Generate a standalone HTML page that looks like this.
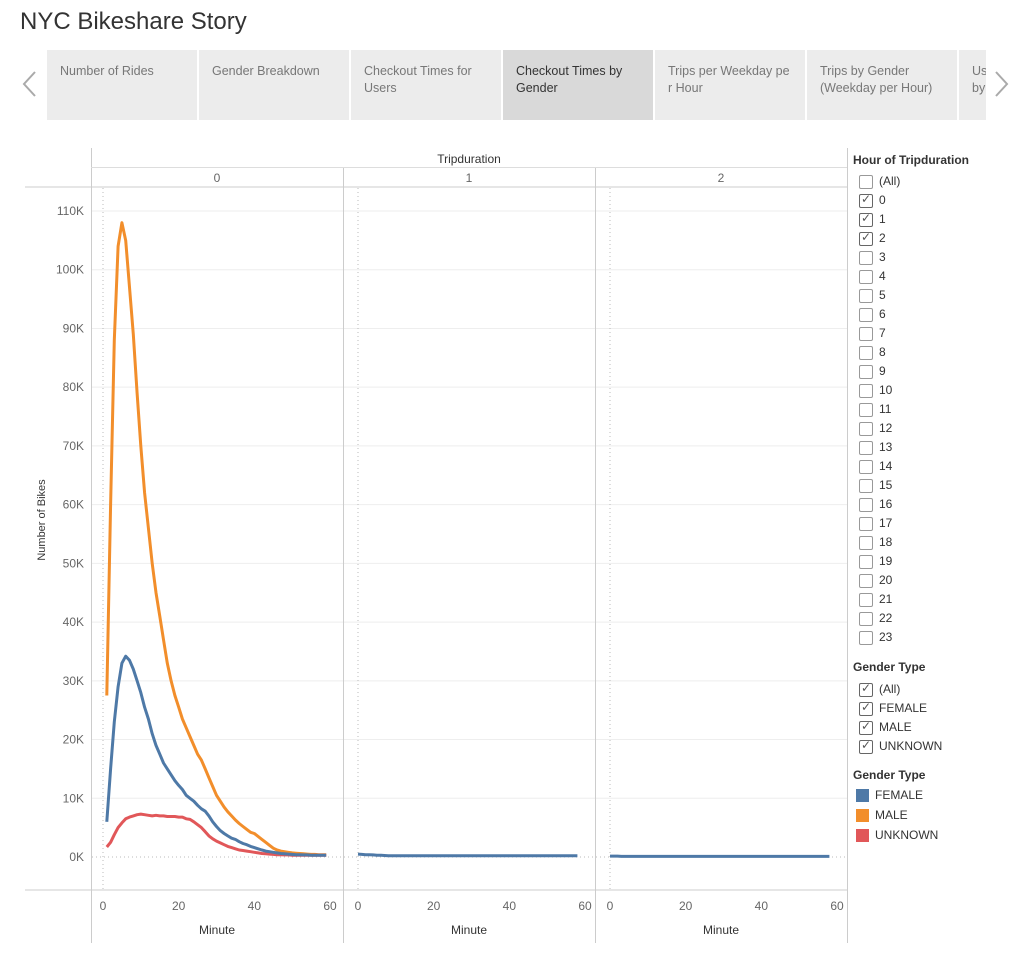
<!DOCTYPE html>
<html><head><meta charset="utf-8"><style>
body{margin:0;width:1014px;height:963px;background:#fff;font-family:"Liberation Sans",sans-serif;overflow:hidden;position:relative}
.t{position:absolute}
.tab{position:absolute;top:50px;height:70px;background:#ececec;color:#777;font-size:12.5px;line-height:17px;padding:13px 0 0 13px;box-sizing:border-box}
.cb{position:absolute;left:859px;width:12px;height:12px;border:1px solid #999;border-radius:2px;background:#fff}
.lb{position:absolute;left:879px;font-size:12px;color:#333}
</style></head><body>
<div class="t" style="left:20px;top:8px;font-size:24px;color:#333">NYC Bikeshare Story</div>
<svg class="t" style="left:20px;top:70px" width="20" height="28"><polyline points="15,2 4,14 15,26" fill="none" stroke="#aaa" stroke-width="2"/></svg>
<svg class="t" style="left:992px;top:70px" width="20" height="28"><polyline points="4,2 15,14 4,26" fill="none" stroke="#aaa" stroke-width="2"/></svg>
<div class="tab" style="left:47px;width:150px">Number of Rides</div>
<div class="tab" style="left:199px;width:150px">Gender Breakdown</div>
<div class="tab" style="left:351px;width:150px">Checkout Times for<br>Users</div>
<div class="tab" style="left:503px;width:150px;background:#d9d9d9;color:#333">Checkout Times by<br>Gender</div>
<div class="tab" style="left:655px;width:150px">Trips per Weekday pe<br>r Hour</div>
<div class="tab" style="left:807px;width:150px">Trips by Gender<br>(Weekday per Hour)</div>
<div class="tab" style="left:959px;width:27px;overflow:hidden">Us<br>by</div>

<svg id="chart" width="1014" height="963" style="position:absolute;left:0;top:0;pointer-events:none"></svg>

<div class="t" style="left:853px;top:153px;font-size:12px;font-weight:bold;color:#333">Hour of Tripduration</div>
<div id="hours"></div>
<div class="t" style="left:853px;top:660px;font-size:12px;font-weight:bold;color:#333">Gender Type</div>
<div id="genders"></div>
<div class="t" style="left:853px;top:768px;font-size:12px;font-weight:bold;color:#333">Gender Type</div>
<div id="legend"></div>

<script>
const minutes=[];for(let i=1;i<=59;i++)minutes.push(i);
const male=[27.5,60,88,104,108,105,97,89,79,70,62,56,50,45,41,37,33,30,27.5,25.5,23.5,22,20.5,19,17.5,16.5,15,13.5,12,10.5,9.5,8.5,7.7,7,6.3,5.7,5.2,4.7,4.2,4,3.5,3,2.5,2,1.5,1.2,1,0.9,0.8,0.7,0.65,0.6,0.55,0.5,0.45,0.45,0.4,0.4,0.4];
const female=[6,15,23,29,33,34.2,33.5,32,30,28,25.5,23.5,21,19,17.5,16,15,14,13,12.2,11.5,10.5,10,9.5,8.8,8.2,7.8,7,6,5.2,4.5,4,3.6,3.2,3,2.6,2.3,2.1,1.8,1.6,1.4,1.2,1,0.9,0.8,0.7,0.6,0.55,0.5,0.45,0.4,0.4,0.35,0.35,0.3,0.3,0.3,0.3,0.3];
const unknown=[1.7,2.5,3.8,5,5.8,6.5,6.8,7,7.2,7.3,7.2,7.1,7,7.1,7,7,6.9,6.9,6.9,6.8,6.8,6.5,6.4,6,5.5,5,4.3,3.6,3.1,2.7,2.4,2.1,1.8,1.6,1.4,1.2,1.1,1,0.9,0.8,0.7,0.6,0.55,0.5,0.45,0.4,0.4,0.35,0.35,0.3,0.3,0.3,0.3,0.3,0.3,0.3,0.3,0.3,0.3];
const hour1=[0.5,0.45,0.4,0.4,0.35,0.3,0.3,0.25,0.2,0.2];
const hour2=[0.15,0.15,0.15,0.1,0.1,0.1];
const yTicks=[0,10,20,30,40,50,60,70,80,90,100,110];
const xTicks=[0,20,40,60];
const panels=["0","1","2"];
const hoursList=["(All)"];for(let i=0;i<24;i++)hoursList.push(String(i));
const checkedHours=["0","1","2"];
const genderFilter=["(All)","FEMALE","MALE","UNKNOWN"];
const legendItems=["FEMALE","MALE","UNKNOWN"];
const colors={FEMALE:"#4e79a7",MALE:"#f28e2b",UNKNOWN:"#e15759"};

const NS="http://www.w3.org/2000/svg";
const svg=document.getElementById('chart');
function el(tag,a,parent){const e=document.createElementNS(NS,tag);for(const k in a)e.setAttribute(k,a[k]);(parent||svg).appendChild(e);return e;}
const y=v=>857-v*(857-211)/110;
const panelX=[103,358,610];
const x=(p,m)=>panelX[p]+m*(330-103)/60;
const bounds=[91,343,595,847];

yTicks.forEach(t=>{if(t>0){const g=el('line',{x1:91,x2:847,y1:y(t),y2:y(t),stroke:'#eee'});}
 const tx=el('text',{x:84,y:y(t)+4,'text-anchor':'end','font-size':12,fill:'#666'});tx.textContent=t+'K';
 });
el('line',{x1:25,x2:847,y1:187,y2:187,stroke:'#ccc'});
el('line',{x1:25,x2:847,y1:890,y2:890,stroke:'#ccc'});
bounds.forEach((b,i)=>el('line',{x1:b+0.5,x2:b+0.5,y1:i==0||i==3?148:168,y2:943,stroke:'#ccc'}));
el('line',{x1:91,x2:847,y1:167.5,y2:167.5,stroke:'#ddd'});
const tt=el('text',{x:469,y:163,'text-anchor':'middle','font-size':12,fill:'#333'});tt.textContent='Tripduration';

const yt=el('text',{transform:'translate(45,520) rotate(-90)','text-anchor':'middle','font-size':11,fill:'#333'});yt.textContent='Number of Bikes';

panels.forEach((p,i)=>{
 const h=el('text',{x:(bounds[i]+bounds[i+1])/2,y:182,'text-anchor':'middle','font-size':12,fill:'#666'});h.textContent=p;
 
 el('line',{x1:x(i,0),x2:x(i,0),y1:188,y2:889,stroke:'#bbb','stroke-dasharray':'1,3'});
 el('line',{x1:bounds[i]+1,x2:bounds[i+1],y1:y(0),y2:y(0),stroke:'#bbb','stroke-dasharray':'1,3'});
 xTicks.forEach(t=>{const tx=el('text',{x:x(i,t),y:910,'text-anchor':'middle','font-size':12,fill:'#666'});tx.textContent=t;
  });
 const xa=el('text',{x:(bounds[i]+bounds[i+1])/2,y:934,'text-anchor':'middle','font-size':12,fill:'#333'});xa.textContent='Minute';
 
});
function line(p,vals,color,name){
 const d=vals.map((v,k)=>(k?'L':'M')+x(p,minutes[k]).toFixed(1)+','+y(v).toFixed(1)).join('');
 const e=el('path',{d:d,fill:'none',stroke:color,'stroke-width':3,'stroke-linejoin':'round'});
 
}
line(0,male,colors.MALE,'line-male-hour0');
line(0,unknown,colors.UNKNOWN,'line-unknown-hour0');
line(0,female,colors.FEMALE,'line-female-hour0');
function flat(p,vals,name){
 const d=minutes.map((m,k)=>(k?'L':'M')+x(p,m-1).toFixed(1)+','+y(vals[Math.min(k,vals.length-1)]).toFixed(1)).join('');
 const e=el('path',{d:d,fill:'none',stroke:colors.FEMALE,'stroke-width':3});
 
}
flat(1,hour1,'line-hour1');flat(2,hour2,'line-hour2');

const hd=document.getElementById('hours');
hoursList.forEach((h,i)=>{const top=175+i*19;
 const c=document.createElement('div');c.className='cb';c.style.top=top+'px';
 if(checkedHours.includes(h)){c.innerHTML='<span style="position:absolute;left:1px;top:-3px;font-size:12px;color:#555">&#x2713;</span>';c.style.borderColor='#666';}
 
 
 hd.appendChild(c);
 const l=document.createElement('div');l.className='lb';l.style.top=(top-1)+'px';l.textContent=h;
 
 
 hd.appendChild(l);});
const gd=document.getElementById('genders');
genderFilter.forEach((g,i)=>{const top=683+i*19;
 const c=document.createElement('div');c.className='cb';c.style.top=top+'px';c.style.borderColor='#666';
 c.innerHTML='<span style="position:absolute;left:1px;top:-3px;font-size:12px;color:#555">&#x2713;</span>';
 
 
 gd.appendChild(c);
 const l=document.createElement('div');l.className='lb';l.style.top=(top-1)+'px';l.textContent=g;
 
 
 gd.appendChild(l);});
const ld=document.getElementById('legend');
legendItems.forEach((g,i)=>{const top=789+i*20;
 const s=document.createElement('div');s.style.cssText='position:absolute;left:856px;width:13px;height:13px;top:'+top+'px;background:'+colors[g];
 
 
 ld.appendChild(s);
 const l=document.createElement('div');l.className='lb';l.style.left='875px';l.style.top=(top-1)+'px';l.textContent=g;
 
 
 ld.appendChild(l);});
</script>
</body></html>
